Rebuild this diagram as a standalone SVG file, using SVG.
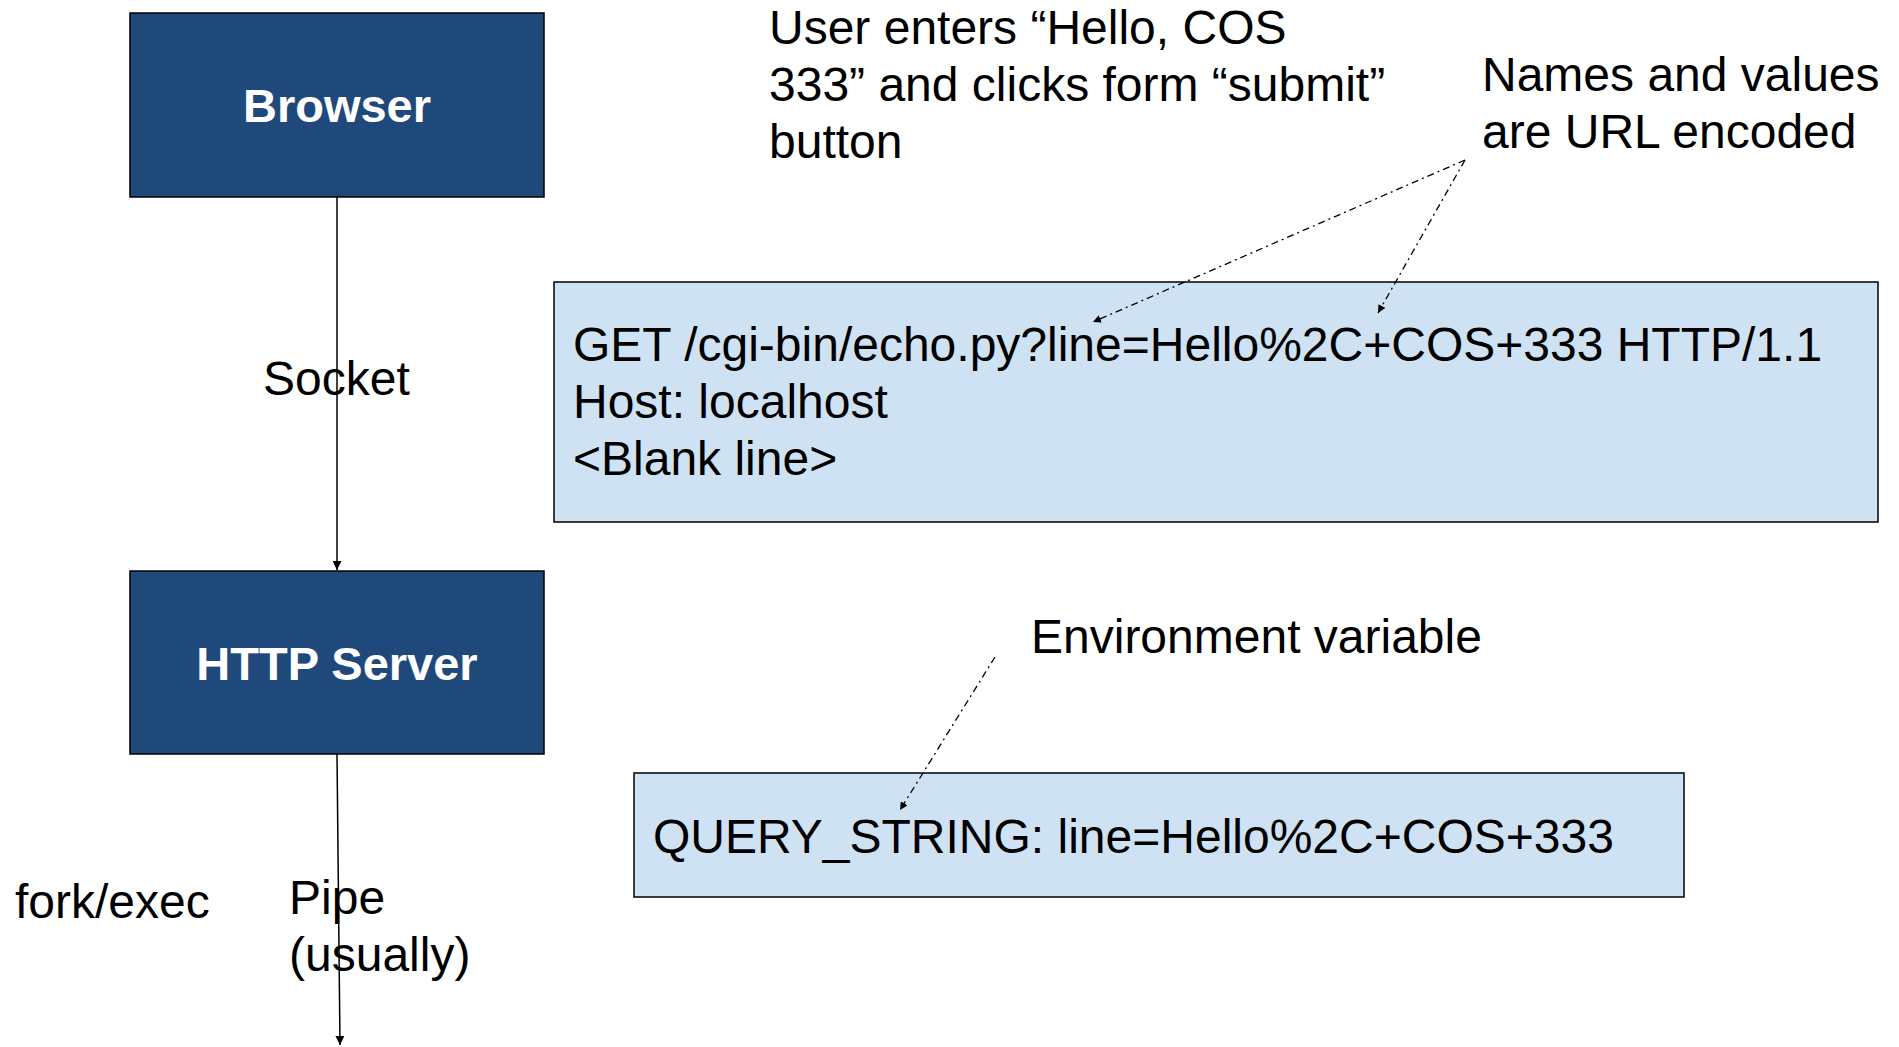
<svg xmlns="http://www.w3.org/2000/svg" width="1899" height="1047" viewBox="0 0 1899 1047">
<style>
.t{font-family:"Liberation Sans",Arial,sans-serif;font-size:48px;fill:#000}
.b{font-family:"Liberation Sans",Arial,sans-serif;font-size:47px;font-weight:bold;fill:#fff;text-anchor:middle}
.dark{fill:#20497b;stroke:#000;stroke-width:1.5}
.light{fill:#cfe2f3;stroke:#000;stroke-width:1.5}
.conn{stroke:#000;stroke-width:1.5;fill:none}
.dd{stroke:#000;stroke-width:1.3;fill:none;stroke-dasharray:7 4 2 4}
</style>
<defs>
<marker id="ah" viewBox="0 0 10 10" refX="10" refY="5" markerWidth="8" markerHeight="8" markerUnits="userSpaceOnUse" orient="auto"><path d="M0,0 L10,5 L0,10 z" fill="#000"/></marker>
<marker id="ah2" viewBox="0 0 10 10" refX="10" refY="5" markerWidth="9" markerHeight="9" markerUnits="userSpaceOnUse" orient="auto"><path d="M0,0 L10,5 L0,10 z" fill="#000"/></marker>
</defs>
<rect width="1899" height="1047" fill="#fff"/>
<g id="browser">
<rect class="dark" x="130" y="13" width="414" height="184"/>
<text class="b" x="337" y="122">Browser</text>
</g>
<g id="http-server">
<rect class="dark" x="130" y="571" width="414" height="183"/>
<text class="b" x="337" y="680">HTTP Server</text>
</g>
<g id="http-request">
<rect class="light" x="554" y="282" width="1324" height="240"/>
<text class="t" x="573" y="361">GET /cgi-bin/echo.py?line=Hello%2C+COS+333 HTTP/1.1</text>
<text class="t" x="573" y="418">Host: localhost</text>
<text class="t" x="573" y="475">&lt;Blank line&gt;</text>
</g>
<g id="query-string">
<rect class="light" x="634" y="773" width="1050" height="124"/>
<text class="t" x="653" y="853">QUERY_STRING: line=Hello%2C+COS+333</text>
</g>
<g id="labels">
<text class="t" x="769" y="44">User enters “Hello, COS</text>
<text class="t" x="769" y="101">333” and clicks form “submit”</text>
<text class="t" x="769" y="158">button</text>
<text class="t" x="1482" y="91">Names and values</text>
<text class="t" x="1482" y="148">are URL encoded</text>
<text class="t" x="1031" y="653">Environment variable</text>
<text class="t" x="263" y="395">Socket</text>
<text class="t" x="15" y="918">fork/exec</text>
<text class="t" x="289" y="914">Pipe</text>
<text class="t" x="289" y="971">(usually)</text>
</g>
<g id="connectors">
<line class="conn" x1="337" y1="197" x2="337" y2="570" marker-end="url(#ah2)"/>
<line class="conn" x1="337" y1="754" x2="340" y2="1045" marker-end="url(#ah2)"/>
<line class="dd" x1="1465" y1="160" x2="1093" y2="322" marker-end="url(#ah)"/>
<line class="dd" x1="1465" y1="160" x2="1378" y2="313" marker-end="url(#ah)"/>
<line class="dd" x1="995" y1="657" x2="900" y2="810" marker-end="url(#ah)"/>
</g>
</svg>
